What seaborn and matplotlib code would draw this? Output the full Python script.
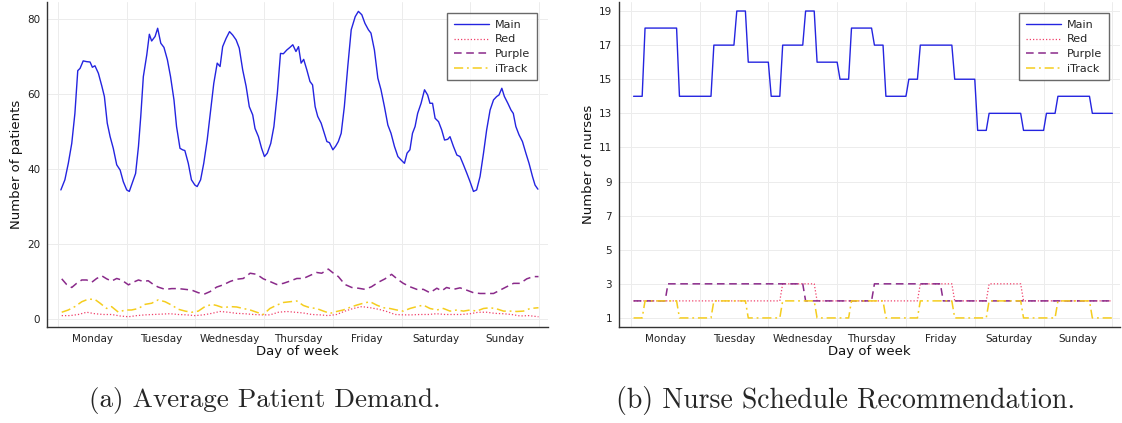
import numpy as np
import pandas as pd
import matplotlib
matplotlib.use("Agg")
import matplotlib.pyplot as plt
import seaborn as sns

# ---------------------------------------------------------------- data
days = ["Monday", "Tuesday", "Wednesday", "Thursday", "Friday", "Saturday", "Sunday"]

# (a) average patient demand, hour of week -> patients
main_hours = [1.0, 2.4, 3.6, 4.8, 5.9, 6.9, 7.7, 8.8, 10.0, 11.2, 12.0, 12.9, 14.1, 15.3,
              16.2, 17.2, 18.2, 19.3, 20.5, 21.7, 22.8, 24.0, 24.9, 26.1, 27.1, 28.1, 28.9,
              29.8, 31.0, 31.9, 32.7, 33.9, 34.8, 35.9, 37.0, 38.2, 39.3, 40.5, 41.4, 42.6,
              43.5, 44.3, 45.5, 46.6, 47.8, 48.6, 49.8, 50.9, 52.1, 53.3, 54.4, 55.6, 56.6,
              57.5, 58.7, 59.9, 61.0, 62.2, 63.3, 64.5, 65.7, 66.8, 68.0, 68.8, 70.0, 71.1,
              72.1, 73.1, 74.3, 75.4, 76.6, 77.7, 78.7, 79.9, 81.0, 82.0, 83.1, 84.0, 84.9,
              85.8, 86.9, 88.0, 88.9, 89.8, 90.7, 91.9, 93.0, 93.9, 94.8, 96.0, 97.0, 97.9,
              98.9, 100.0, 101.2, 102.4, 103.8, 104.9, 106.1, 107.2, 108.4, 109.3, 110.5,
              111.7, 112.8, 114.0, 115.2, 116.3, 117.5, 118.7, 119.8, 121.0, 121.9, 122.9,
              123.8, 124.7, 125.6, 126.8, 128.0, 129.1, 129.9, 130.8, 131.7, 132.9, 134.0,
              135.0, 136.1, 136.9, 138.1, 139.3, 140.4, 141.6, 142.8, 143.9, 145.1, 146.2,
              147.4, 148.6, 149.7, 150.9, 152.1, 153.2, 154.0, 155.0, 155.9, 157.1, 158.2,
              159.0, 159.9, 161.0, 162.2, 163.4, 164.5, 165.7, 166.6, 167.6]
main_demand = [34.4, 37.1, 41.5, 46.8, 54.8, 66.2, 66.8, 68.8, 68.6, 68.5, 67.1, 67.5, 65.5,
               62.1, 59.3, 52.2, 48.6, 45.5, 41.1, 39.7, 36.6, 34.4, 34.0, 36.6, 38.8, 46.0,
               54.0, 64.6, 70.4, 75.9, 74.1, 75.3, 77.5, 73.5, 72.4, 69.1, 64.6, 58.4, 51.3,
               45.5, 45.1, 44.9, 41.5, 37.1, 35.7, 35.3, 37.1, 41.5, 47.7, 55.7, 62.8, 68.2,
               67.3, 72.6, 74.8, 76.6, 75.7, 74.4, 72.2, 66.4, 62.0, 56.6, 54.4, 50.8, 48.6,
               45.5, 43.3, 44.2, 46.8, 51.3, 60.2, 70.8, 70.7, 71.7, 72.4, 73.1, 71.3, 72.6,
               68.2, 69.2, 66.4, 63.3, 62.4, 56.6, 54.0, 52.2, 49.5, 47.3, 47.0, 45.1, 46.1,
               47.3, 49.5, 56.6, 67.3, 77.1, 80.6, 82.0, 81.1, 78.8, 77.1, 76.2, 71.7, 64.2,
               61.1, 56.6, 51.7, 49.5, 46.0, 43.3, 42.4, 41.5, 44.2, 45.1, 49.5, 51.3, 54.8,
               57.5, 61.1, 59.7, 57.5, 57.5, 53.5, 52.6, 50.4, 47.7, 47.9, 48.6, 46.0, 43.7,
               43.3, 41.1, 38.8, 36.6, 34.0, 34.4, 38.0, 44.2, 50.4, 55.7, 58.4, 59.3, 59.7,
               61.5, 59.3, 57.5, 55.7, 54.8, 51.3, 49.1, 47.3, 44.2, 41.5, 38.0, 35.7, 34.6]

red_hours = [1.3, 4.2, 7.1, 10.0, 12.9, 15.8, 18.7, 21.7, 24.6, 27.5, 30.4, 33.3, 36.2, 39.1,
             42.0, 44.9, 47.8, 50.8, 53.7, 56.6, 59.5, 62.4, 65.3, 68.2, 71.1, 74.0, 77.0,
             79.9, 82.8, 85.7, 88.6, 91.5, 94.4, 97.3, 100.2, 103.1, 106.1, 109.0, 111.9,
             114.8, 117.7, 120.6, 123.5, 126.4, 129.3, 132.2, 135.2, 138.1, 141.0, 143.9,
             146.8, 149.7, 152.6, 155.5, 158.4, 161.4, 164.3, 167.8]
red_demand = [0.9, 0.9, 1.2, 1.8, 1.4, 1.2, 1.2, 0.8, 0.6, 0.9, 1.1, 1.2, 1.3, 1.4, 1.2, 1.1,
              0.9, 1.1, 1.5, 2.0, 1.8, 1.5, 1.4, 1.2, 1.1, 1.1, 1.8, 2.0, 1.8, 1.6, 1.2, 1.1,
              0.9, 1.2, 2.1, 2.8, 3.3, 3.0, 2.6, 2.0, 1.2, 1.1, 1.1, 1.2, 1.2, 1.4, 1.2, 1.2,
              1.2, 1.4, 1.8, 1.8, 1.5, 1.4, 1.2, 0.8, 0.9, 0.6]

purple_hours = [1.3, 3.0, 4.8, 6.5, 8.3, 10.0, 11.8, 13.5, 15.3, 17.0, 18.7, 20.5, 22.2, 24.6,
                26.3, 28.1, 29.8, 31.5, 33.3, 35.0, 37.4, 39.7, 42.0, 44.4, 46.7, 49.0, 51.3,
                53.1, 55.4, 57.7, 60.1, 62.4, 64.7, 67.1, 69.4, 71.7, 74.0, 76.4, 78.7, 81.0,
                83.4, 85.7, 88.0, 90.3, 92.1, 94.4, 96.2, 97.9, 100.2, 102.6, 104.9, 107.2,
                109.5, 111.9, 114.2, 116.5, 118.9, 120.6, 122.9, 125.3, 127.6, 129.9, 132.3,
                134.0, 135.7, 138.1, 140.4, 142.7, 145.1, 147.4, 149.7, 152.1, 154.4, 156.7,
                159.1, 161.4, 163.7, 166.0, 167.8]
purple_demand = [10.7, 9.2, 8.4, 9.5, 10.4, 10.4, 9.8, 10.8, 11.5, 10.7, 10.1, 10.8, 10.4, 9.1,
                 9.8, 10.4, 10.0, 10.2, 9.2, 8.5, 7.9, 8.1, 8.1, 7.9, 7.7, 7.0, 6.7, 7.3, 8.5,
                 9.1, 10.0, 10.6, 10.8, 12.2, 11.9, 10.7, 10.0, 9.2, 9.5, 10.1, 10.8, 10.8, 11.6,
                 12.4, 12.2, 13.3, 12.2, 11.3, 9.2, 8.4, 8.2, 7.9, 8.6, 9.8, 10.7, 11.9, 10.4,
                 9.5, 8.6, 7.9, 7.9, 7.0, 8.2, 7.5, 8.4, 7.9, 8.3, 7.7, 7.0, 6.8, 6.8, 6.8, 7.7,
                 8.6, 9.5, 9.5, 10.7, 11.3, 11.3]

itrack_hours = [1.3, 3.6, 5.9, 8.3, 10.6, 12.9, 14.7, 17.0, 18.7, 21.1, 23.4, 25.7, 28.1, 30.4,
                32.7, 35.0, 37.4, 39.7, 42.0, 44.4, 46.7, 49.0, 51.3, 53.7, 55.4, 57.7, 60.1,
                62.4, 64.7, 67.1, 69.4, 71.7, 74.0, 76.4, 78.7, 81.0, 83.4, 85.7, 88.0, 90.3,
                92.7, 95.0, 97.3, 99.6, 102.0, 104.3, 106.6, 109.0, 111.3, 113.6, 115.9, 118.3,
                120.6, 122.9, 125.3, 127.6, 129.9, 132.3, 134.6, 136.9, 139.3, 141.6, 143.9,
                146.2, 148.6, 150.9, 153.2, 155.6, 157.9, 160.2, 162.5, 164.9, 167.8]
itrack_demand = [1.8, 2.4, 3.3, 4.6, 5.3, 5.2, 4.2, 2.8, 3.3, 1.8, 2.4, 2.4, 2.8, 3.9, 4.2, 5.1,
                 4.6, 3.7, 2.6, 2.1, 1.8, 2.1, 3.3, 3.9, 3.6, 3.0, 3.3, 3.2, 2.8, 2.4, 1.8, 1.2,
                 2.8, 3.7, 4.4, 4.6, 4.8, 3.6, 3.0, 2.8, 2.1, 1.5, 2.0, 2.4, 3.1, 3.7, 4.2, 4.6,
                 3.7, 3.0, 2.8, 2.4, 2.1, 2.8, 3.3, 3.7, 2.8, 2.4, 2.8, 2.1, 2.4, 2.1, 2.4, 2.1,
                 2.8, 3.0, 2.7, 2.1, 2.1, 2.0, 2.1, 2.8, 3.0]

# (b) recommended nurses per shift block: last hour of each block and its staffing level
main_block_end = [4, 16, 28, 36, 40, 48, 52, 60, 64, 72, 76, 84, 88, 96, 100, 112, 120, 124,
                  136, 144, 148, 160, 168]
main_nurses = [14, 18, 14, 17, 19, 16, 14, 17, 19, 16, 15, 18, 17, 14, 15, 17, 15, 12, 13, 12,
               13, 14, 13]
red_block_end = [52, 64, 100, 112, 124, 136, 168]
red_nurses = [2, 3, 2, 3, 2, 3, 2]
purple_block_end = [12, 60, 84, 108, 168]
purple_nurses = [2, 3, 2, 3, 2]
itrack_block_end = [4, 16, 28, 40, 52, 64, 76, 88, 100, 112, 124, 136, 148, 160, 168]
itrack_nurses = [1, 2, 1, 2, 1, 2, 1, 2, 1, 2, 1, 2, 1, 2, 1]

# ---------------------------------------------------------------- style
sns.set_style("white")
plt.rcParams["font.family"] = ["DejaVu Sans"]

styles = {
    "Main": dict(color="#2424e0", linestyle="-", linewidth=1.0),
    "Red": dict(color="#f0406a", linestyle=(0, (1, 1.6)), linewidth=0.9),
    "Purple": dict(color="#8a2a8a", linestyle=(0, (5, 3)), linewidth=1.1),
    "iTrack": dict(color="#f5cd1e", linestyle=(0, (6, 2.5, 1.2, 2.5)), linewidth=1.1),
}


def hourly(block_end, levels):
    """Expand shift blocks into one staffing value per hour of the week."""
    counts = np.diff([0] + list(block_end))
    vals = np.repeat(levels, counts)
    return pd.DataFrame({"day": np.arange(1, len(vals) + 1) / 24.0, "value": vals})


def frame(hours, values):
    return pd.DataFrame({"day": np.asarray(hours) / 24.0, "value": values})


def style_axes(ax, xlim, ylim, yticks, ylabel):
    ax.set_xlim(*xlim)
    ax.set_ylim(*ylim)
    ax.set_xticks(range(8))
    ax.set_xticklabels([])
    ax.set_xticks(np.arange(7) + 0.5, minor=True)
    ax.set_xticklabels(days, minor=True)
    ax.set_yticks(yticks)
    ax.tick_params(axis="x", which="major", direction="in", length=4, width=1,
                   color="#333333")
    ax.tick_params(axis="x", which="minor", length=0, labelsize=7.5, pad=5,
                   labelcolor="#222222")
    ax.tick_params(axis="y", direction="out", length=3, width=1, color="#333333",
                   labelsize=7.5, pad=2, labelcolor="#222222")
    ax.grid(True, which="major", color="#ececec", linewidth=0.7)
    for side in ("top", "right"):
        ax.spines[side].set_visible(False)
    for side in ("left", "bottom"):
        ax.spines[side].set_color("#333333")
        ax.spines[side].set_linewidth(1.0)
    ax.set_xlabel("Day of week", fontsize=9.5, labelpad=1, color="#111111")
    ax.set_ylabel(ylabel, fontsize=9.5, labelpad=3, color="#111111")
    leg = ax.legend(loc="upper right", fontsize=8, frameon=True, fancybox=False,
                    handlelength=3.2, handletextpad=0.5, borderpad=0.6,
                    labelspacing=0.42, borderaxespad=1.0)
    leg.get_frame().set_edgecolor("#444444")
    leg.get_frame().set_linewidth(1.0)


fig = plt.figure(figsize=(11.22, 4.23), dpi=100)
ax_a = fig.add_axes([0.0419, 0.2270, 0.4465, 0.7683])
ax_b = fig.add_axes([0.5517, 0.2270, 0.4465, 0.7683])

demand = {
    "Main": frame(main_hours, main_demand),
    "Red": frame(red_hours, red_demand),
    "Purple": frame(purple_hours, purple_demand),
    "iTrack": frame(itrack_hours, itrack_demand),
}
schedule = {
    "Main": hourly(main_block_end, main_nurses),
    "Red": hourly(red_block_end, red_nurses),
    "Purple": hourly(purple_block_end, purple_nurses),
    "iTrack": hourly(itrack_block_end, itrack_nurses),
}

for name, df in demand.items():
    sns.lineplot(data=df, x="day", y="value", ax=ax_a, label=name, **styles[name])
for name, df in schedule.items():
    sns.lineplot(data=df, x="day", y="value", ax=ax_b, label=name, **styles[name])

style_axes(ax_a, (-0.16, 7.13), (-2.13, 84.5), [0, 20, 40, 60, 80], "Number of patients")
style_axes(ax_b, (-0.17, 7.11), (0.47, 19.53), list(range(1, 20, 2)), "Number of nurses")

fig.text(0.236, 0.054, "(a) Average Patient Demand.", ha="center", va="center",
         fontsize=19.5, family="cmr10")
fig.text(0.754, 0.054, "(b) Nurse Schedule Recommendation.", ha="center", va="center",
         fontsize=20, family="cmr10")

fig.savefig("out.png", dpi=100)
